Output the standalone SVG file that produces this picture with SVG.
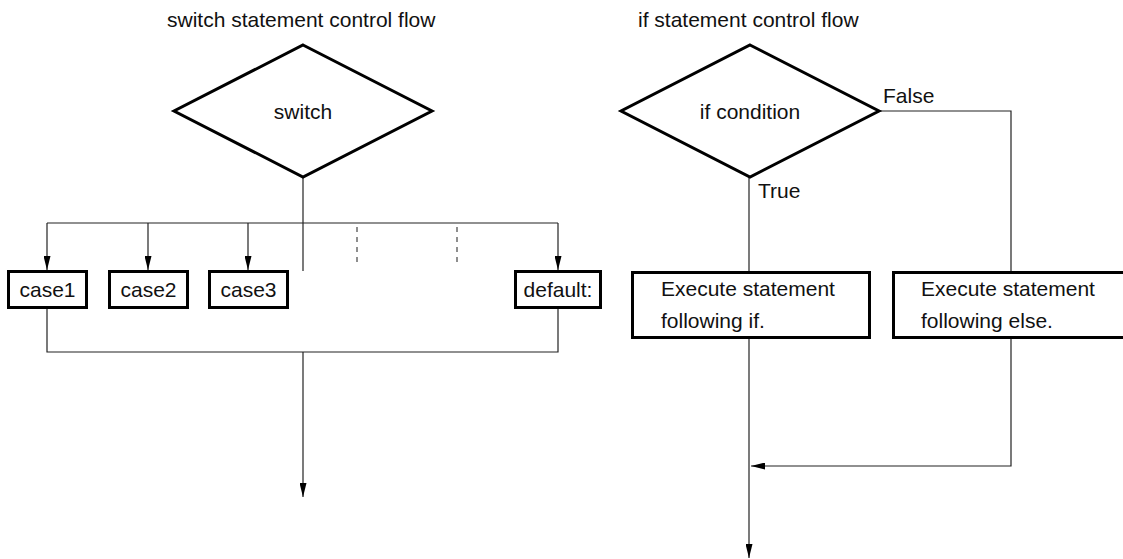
<svg xmlns="http://www.w3.org/2000/svg" width="1123" height="559" viewBox="0 0 1123 559">
  <defs>
    <marker id="arrow" viewBox="0 0 14 7" refX="14" refY="3.5" markerWidth="14" markerHeight="7" markerUnits="userSpaceOnUse" orient="auto">
      <path d="M0,0 L14,3.5 L0,7 Z" fill="#000"/>
    </marker>
  </defs>
  <style>
    text { font-family: "Liberation Sans", Arial, sans-serif; font-size: 21px; fill: #111; }
    .mid { text-anchor: middle; }
    .shape { fill: #fff; stroke: #000; stroke-width: 3; }
    .line { fill: none; stroke: #222; stroke-width: 1.2; }
    .dash { fill: none; stroke: #444; stroke-width: 1.2; stroke-dasharray: 5 5; }
  </style>
  <rect width="1123" height="559" fill="#fff"/>

  <!-- titles -->
  <text x="167" y="27">switch statement control flow</text>
  <text x="638" y="27">if statement control flow</text>

  <!-- connectors -->
  <g id="connectors">
    <!-- switch fan-out -->
    <path class="line" d="M303,177 V271"/>
    <path class="line" d="M47,223 H558"/>
    <path class="line" d="M47,223 V270" marker-end="url(#arrow)"/>
    <path class="line" d="M148,223 V270" marker-end="url(#arrow)"/>
    <path class="line" d="M248,223 V270" marker-end="url(#arrow)"/>
    <path class="line" d="M558,223 V270" marker-end="url(#arrow)"/>
    <path class="dash" d="M357,227 V265"/>
    <path class="dash" d="M457,227 V265"/>
    <!-- switch merge -->
    <path class="line" d="M47,308 V352 H558 V308"/>
    <path class="line" d="M303,352 V497" marker-end="url(#arrow)"/>
    <!-- if branches -->
    <path class="line" d="M749,177 V272"/>
    <path class="line" d="M879,111 H1011 V272"/>
    <path class="line" d="M749,338 V558" marker-end="url(#arrow)"/>
    <path class="line" d="M1011,338 V466 H751" marker-end="url(#arrow)"/>
  </g>

  <!-- switch diamond -->
  <g id="switch">
    <polygon class="shape" points="303,45 432,111 303,177 174,111"/>
    <text class="mid" x="303" y="119">switch</text>
  </g>

  <g id="case1">
    <rect class="shape" x="8.5" y="271.5" width="78" height="36"/>
    <text class="mid" x="47.5" y="297">case1</text>
  </g>
  <g id="case2">
    <rect class="shape" x="109.5" y="271.5" width="78" height="36"/>
    <text class="mid" x="148.5" y="297">case2</text>
  </g>
  <g id="case3">
    <rect class="shape" x="209.5" y="271.5" width="78" height="36"/>
    <text class="mid" x="248.5" y="297">case3</text>
  </g>
  <g id="default">
    <rect class="shape" x="515.5" y="271.5" width="85" height="36"/>
    <text class="mid" x="558" y="297">default:</text>
  </g>

  <!-- if diamond -->
  <g id="if-condition">
    <polygon class="shape" points="750,45 879,111 750,177 621,111"/>
    <text class="mid" x="750" y="119">if condition</text>
  </g>
  <text x="883" y="103">False</text>
  <text x="758" y="198">True</text>

  <g id="if-true">
    <rect class="shape" x="632.5" y="272.5" width="237" height="65"/>
    <text x="661" y="296">Execute statement</text>
    <text x="661" y="328">following if.</text>
  </g>
  <g id="if-false">
    <rect class="shape" x="893.5" y="272.5" width="240" height="65"/>
    <text x="921" y="296">Execute statement</text>
    <text x="921" y="328">following else.</text>
  </g>
</svg>
